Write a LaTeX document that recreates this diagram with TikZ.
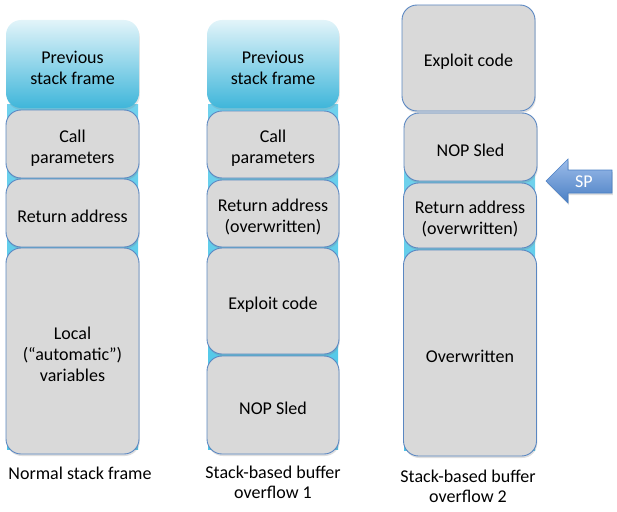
\documentclass[tikz,border=0pt]{standalone}
\usepackage{fontspec}
\setmainfont{Carlito}
\usetikzlibrary{shadows}
\definecolor{boxgray}{HTML}{D9D9D9}
\definecolor{boxline}{HTML}{5A87C2}
\definecolor{cyanb}{HTML}{3FB6DA}
\definecolor{cyanbg}{HTML}{4CC6E8}
\definecolor{arrtop}{HTML}{9DBDEA}
\definecolor{arrbot}{HTML}{4A7FC4}
\newcommand\lowstrut{\rule{0pt}{20pt}}
\tikzset{
  box/.style={draw=boxline, line width=0.9pt, fill=boxgray, rounded corners=15pt,
    align=center, inner sep=0pt, font=\fontsize{18}{21}\selectfont,
    drop shadow={opacity=0.25, shadow xshift=0.8pt, shadow yshift=-2pt}},
  prevbox/.style={rounded corners=15pt, top color=white!85!cyanb, bottom color=cyanb,
    align=center, inner sep=0pt, font=\fontsize{18}{21}\selectfont,
    drop shadow={opacity=0.2, shadow xshift=0.8pt, shadow yshift=-2pt}},
  bgstrip/.style={top color=cyanbg!80!white, bottom color=cyanbg, draw=none, inner sep=0pt},
  caption/.style={align=center, font=\fontsize{18}{20.5}\selectfont},
  sptext/.style={text=white, inner sep=0pt, font=\fontsize{18}{21}\selectfont},
}
\begin{document}
\begin{tikzpicture}[x=1pt,y=-1pt]
\useasboundingbox (0,0) rectangle (617,511);
% column 1
\node[bgstrip, minimum width=131, minimum height=345] (bg1) at (72.5,277) {};
\node[prevbox, minimum width=133, minimum height=88] (p1) at (72.5,64) {\lowstrut Previous\\stack frame};
\node[box, minimum width=133, minimum height=68] (c1) at (72.5,144) {\lowstrut Call\\parameters};
\node[box, minimum width=133, minimum height=68] (r1) at (72.5,213) {\lowstrut Return address};
\node[box, minimum width=133, minimum height=206] (l1) at (72.5,351) {\lowstrut Local\\(“automatic”)\\variables};
\node[caption] (t1) at (80,473) {Normal stack frame};
% column 2
\node[bgstrip, minimum width=130, minimum height=345] (bg2) at (273,277) {};
\node[prevbox, minimum width=132, minimum height=88] (p2) at (273,64) {\lowstrut Previous\\stack frame};
\node[box, minimum width=132, minimum height=67] (c2) at (273,144.5) {\lowstrut Call\\parameters};
\node[box, minimum width=132, minimum height=67] (r2) at (273,213.5) {\lowstrut Return address\\(overwritten)};
\node[box, minimum width=132, minimum height=106] (e2) at (273,301) {\lowstrut Exploit code};
\node[box, minimum width=132, minimum height=98] (n2) at (273,405) {\lowstrut NOP Sled};
\node[caption] (t2) at (273,482.5) {Stack-based buffer\\overflow 1};
% column 3
\node[bgstrip, minimum width=131, minimum height=280] (bg3) at (469.5,310) {};
\node[box, minimum width=133, minimum height=106] (e3) at (468.5,58) {\lowstrut Exploit code};
\node[box, minimum width=133, minimum height=68] (n3) at (470.5,147) {\lowstrut NOP Sled};
\node[box, minimum width=133, minimum height=65] (r3) at (470,215.5) {\lowstrut Return address\\(overwritten)};
\node[box, minimum width=133, minimum height=206] (o3) at (470,353) {\lowstrut Overwritten};
\node[caption] (t3) at (468,486.5) {Stack-based buffer\\overflow 2};
% SP arrow
\path[draw=arrbot, line width=0.6pt, top color=arrtop, bottom color=arrbot,
  drop shadow={opacity=0.25, shadow xshift=0.8pt, shadow yshift=-2pt}]
  (546,181) -- (568,159) -- (568,170) -- (612,170) -- (612,193) -- (568,193) -- (568,203) -- cycle;
\node[sptext] (sp) at (584,182) {SP};
\end{tikzpicture}
\end{document}
